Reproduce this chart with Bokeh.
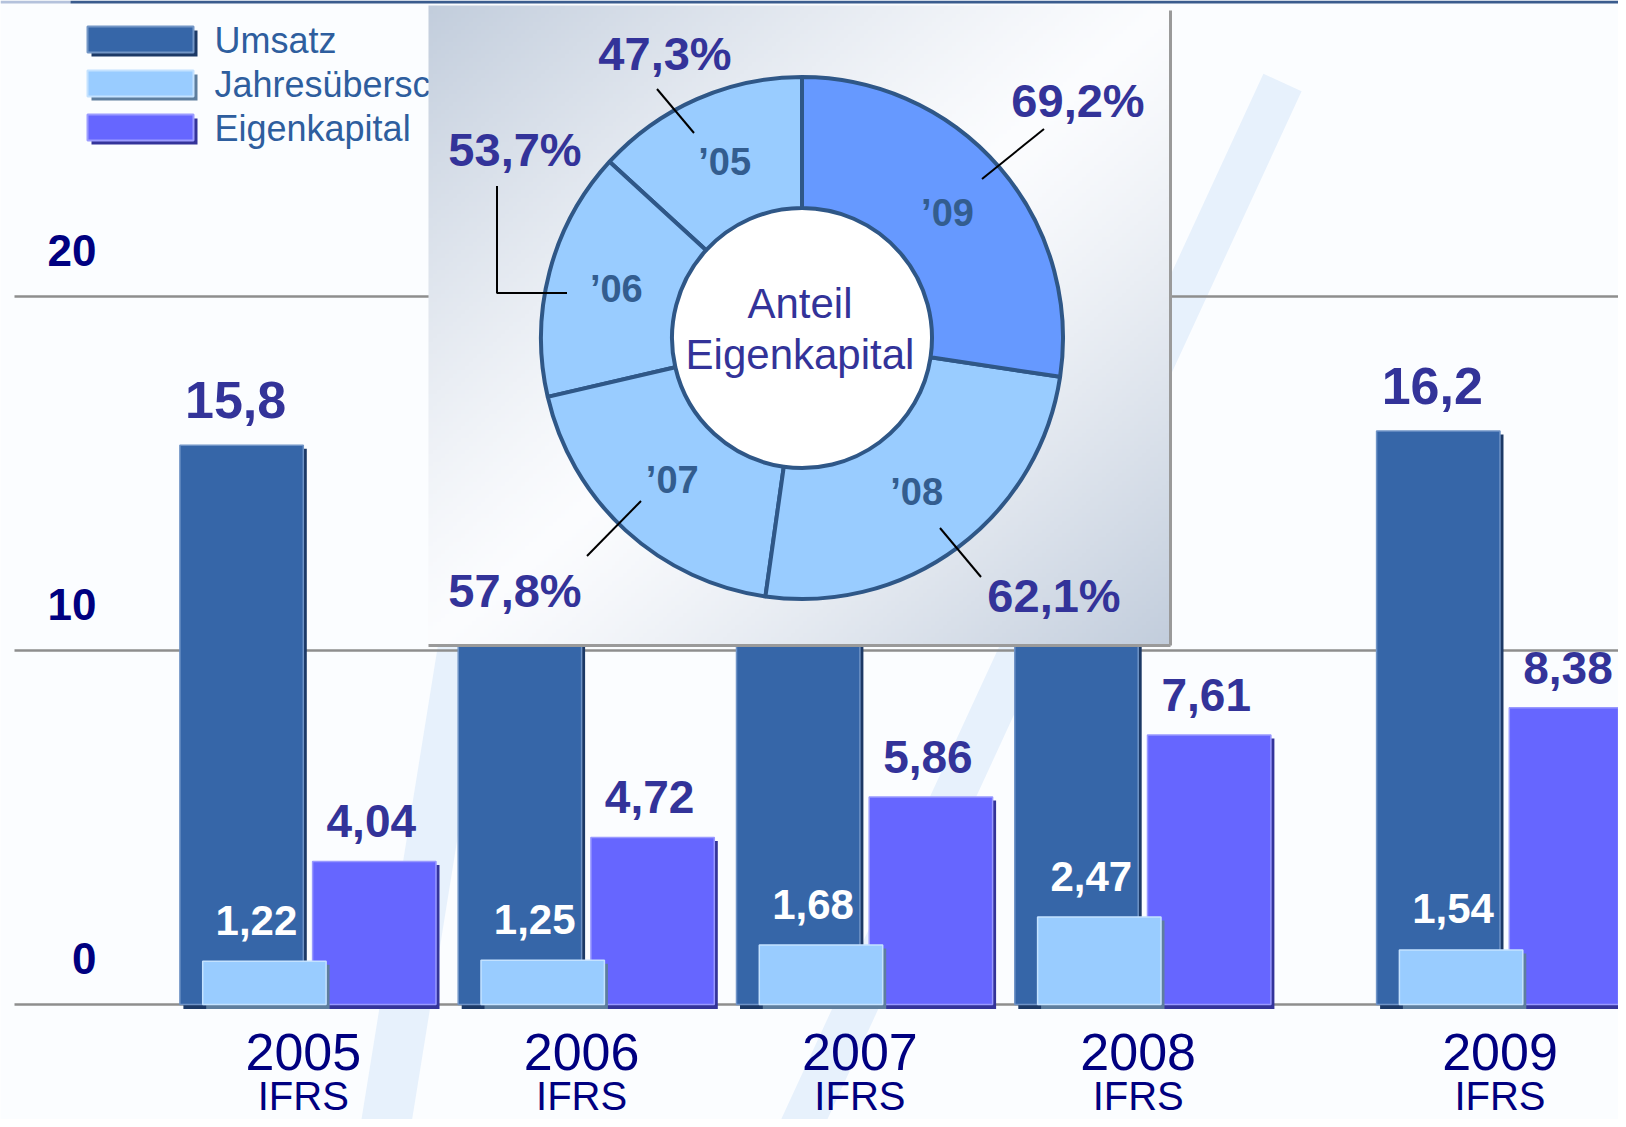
import numpy as np
from bokeh.plotting import figure
from bokeh.models import Range1d
from bokeh.core.properties import value
from bokeh.embed import file_html
from bokeh.resources import INLINE

# ---------------- data ----------------
years = ["2005", "2006", "2007", "2008", "2009"]
year_note = ["IFRS", "IFRS", "IFRS", "IFRS", "IFRS"]
umsatz = [15.8, 13.9, 14.6, 15.9, 16.2]          # 2006-2008 hidden behind the inset (estimated)
umsatz_label_visible = [True, False, False, False, True]
jahresueberschuss = [1.22, 1.25, 1.68, 2.47, 1.54]
eigenkapital = [4.04, 4.72, 5.86, 7.61, 8.38]
ek_quote = [47.3, 53.7, 57.8, 62.1, 69.2]
donut_years = ["\u201905", "\u201906", "\u201907", "\u201908", "\u201909"]
y_ticks = [0, 10, 20]
legend_labels = ["Umsatz", "Jahresüberschuss", "Eigenkapital"]
center_text = ["Anteil", "Eigenkapital"]


def de(v, nd):
    return f"{v:.{nd}f}".replace(".", ",")


# ---------------- layout (reference pixel space) ----------------
W, H = 1618, 1119
M = 0                      # reference pixel of canvas origin
Y0_REF = 1004.0            # zero line
PXU = 35.4                 # pixels per value unit
X0_REF = 179.4             # left edge of first group
SLOT_PX = 278.3            # distance between groups
LAST_GAP = 0.3             # extra spacing before the last group (in slots)
BAR_PX = 123.4
OFF_LIGHT_PX = 22.8
OFF_EK_PX = 132.7
SH = 3.5                   # shadow offset px

CX, CY = 801.5, 337.5      # donut centre (reference px)
R_OUT, R_IN = 261.0, 130.0

FONT = value("Liberation Sans")
NAVY = "#000080"
INDIGO = "#333399"

n = len(years)
idx = np.arange(n)
slot = idx + LAST_GAP * (idx == n - 1)
bw = BAR_PX / SLOT_PX
x_ums = slot + bw / 2
x_light = slot + OFF_LIGHT_PX / SLOT_PX + bw / 2
x_ek = slot + OFF_EK_PX / SLOT_PX + bw / 2
dxs = SH / SLOT_PX
dys = SH / PXU

p = figure(width=W, height=H, output_backend="svg", toolbar_location=None,
           x_range=Range1d((M - X0_REF) / SLOT_PX, (M + W - X0_REF) / SLOT_PX),
           y_range=Range1d((Y0_REF - (M + H)) / PXU, (Y0_REF - M) / PXU),
           x_axis_location=None, y_axis_location=None, min_border=0,
           background_fill_color="#fbfdff", border_fill_color="#fbfdff",
           outline_line_color=None)
p.grid.visible = False
p.extra_x_ranges = {"px": Range1d(M, M + W), "dn": Range1d(M - CX, M + W - CX)}
p.extra_y_ranges = {"px": Range1d(-(M + H), -M), "dn": Range1d(CY - (M + H), CY - M)}
PX = dict(x_range_name="px", y_range_name="px")
DN = dict(x_range_name="dn", y_range_name="dn")


# ---------------- watermark (faint check stroke) ----------------
def band(x0, y0, x1, y1, w):
    d = np.array([x1 - x0, y1 - y0], float)
    nrm = np.array([-d[1], d[0]]) / np.hypot(*d) * w / 2
    xs = [x0 + nrm[0], x1 + nrm[0], x1 - nrm[0], x0 - nrm[0]]
    ys = [y0 + nrm[1], y1 + nrm[1], y1 - nrm[1], y0 - nrm[1]]
    return xs, [-y for y in ys]


wa = band(385, 1127, 470, 600, 50)
wb = band(800, 1127, 1282, 82, 42)
p.patches(xs=[wa[0], wb[0]], ys=[wa[1], wb[1]], fill_color="#e7f1fc",
          line_color=None, **PX)

# top rule
p.quad(left=[0, 70], right=[70, M + W], top=[0, 0], bottom=[-3, -3],
       fill_color=["#b4c2dc", "#3a5c8e"], line_color=None, **PX)

# ---------------- gridlines & value-axis labels ----------------
p.segment(x0=[14] * len(y_ticks), x1=[M + W] * len(y_ticks), y0=y_ticks, y1=y_ticks,
          line_color="#8e8e8e", line_width=2.5, x_range_name="px")
p.text(x=[96] * len(y_ticks), y=y_ticks, text=[str(t) for t in y_ticks],
       text_font=FONT, text_font_size="44px", text_font_style="bold",
       text_color=NAVY, text_align="right", text_baseline="middle",
       y_offset=-46, x_range_name="px")

# ---------------- legend (custom) ----------------
LEG_X0, LEG_W, LEG_Y0, LEG_H, LEG_DY = 87, 106, 26, 26, 44
leg_fill = ["#3666a8", "#99ccff", "#6666ff"]
leg_shadow = ["#1c3966", "#5e7e9e", "#34349a"]
leg_hi = ["#7396c6", "#c4e2ff", "#9c9cff"]
tops = [LEG_Y0 + i * LEG_DY for i in range(3)]
p.quad(left=[LEG_X0 + 4] * 3, right=[LEG_X0 + LEG_W + 4] * 3,
       top=[-(t + 4) for t in tops], bottom=[-(t + LEG_H + 4) for t in tops],
       fill_color=leg_shadow, line_color=None, **PX)
p.quad(left=[LEG_X0] * 3, right=[LEG_X0 + LEG_W] * 3,
       top=[-t for t in tops], bottom=[-(t + LEG_H) for t in tops],
       fill_color=leg_fill, line_color=leg_hi, line_width=2, **PX)
p.text(x=[214] * 3, y=[-(t + LEG_H / 2 + 1) for t in tops], text=legend_labels,
       text_font=FONT, text_font_size="36px", text_color="#2e5e9e",
       text_align="left", text_baseline="middle", **PX)


# ---------------- bars ----------------
def bars(xc, vals, fill, shadow, hi):
    vals = np.array(vals, float)
    p.vbar(x=xc + dxs, top=vals - dys, bottom=-4.5 / PXU, width=bw,
           fill_color=shadow, line_color=None)
    p.vbar(x=xc, top=vals, bottom=0, width=bw, fill_color=fill,
           line_color=hi, line_width=1.5)


bars(x_ums, umsatz, "#3666a8", "#1c3966", "#6f93c6")
bars(x_ek, eigenkapital, "#6666ff", "#34349a", "#9999ff")
bars(x_light, jahresueberschuss, "#99ccff", "#5e7e9e", "#c4e2ff")

vis = [i for i in range(n) if umsatz_label_visible[i]]
p.text(x=x_ums[vis], y=[umsatz[i] for i in vis], text=[de(umsatz[i], 1) for i in vis],
       text_font=FONT, text_font_size="52px", text_font_style="bold",
       text_color=INDIGO, text_align="center", text_baseline="middle",
       x_offset=-6, y_offset=-45)
p.text(x=x_ek, y=eigenkapital, text=[de(v, 2) for v in eigenkapital],
       text_font=FONT, text_font_size="46px", text_font_style="bold",
       text_color=INDIGO, text_align="center", text_baseline="middle",
       x_offset=-3, y_offset=-40)
p.text(x=x_light, y=jahresueberschuss, text=[de(v, 2) for v in jahresueberschuss],
       text_font=FONT, text_font_size="42px", text_font_style="bold",
       text_color="white", text_align="center", text_baseline="middle",
       x_offset=-8, y_offset=-41)

# category labels
p.text(x=slot + bw, y=[0] * n, text=years, text_font=FONT, text_font_size="52px",
       text_color=NAVY, text_align="center", text_baseline="middle", y_offset=47)
p.text(x=slot + bw, y=[0] * n, text=year_note, text_font=FONT, text_font_size="40px",
       text_color=NAVY, text_align="center", text_baseline="middle", y_offset=91)

# ---------------- inset panel ----------------
PL, PT, PR, PB = 428, 5, 1170, 645
ny, nx = 160, 186
u = np.linspace(0, 1, nx)[None, :]
vt = np.linspace(1, 0, ny)[:, None]          # row 0 = bottom
t = (u + vt) / 2
m = np.clip(np.abs(2 * t - 1), 0, 1) ** 1.25
edge = np.array([194, 205, 220], float)
white = np.array([251, 252, 254], float)
rgb = white * (1 - m[..., None]) + edge * m[..., None]
img = np.empty((ny, nx, 4), dtype=np.uint8)
img[..., :3] = np.round(rgb).astype(np.uint8)
img[..., 3] = 255
arr = img.view(np.uint32).reshape(ny, nx)
p.image_rgba(image=[arr], x=PL, y=-PB, dw=PR - PL, dh=PB - PT, **PX)
p.segment(x0=[PR, PL], y0=[-(PT + 5), -PB], x1=[PR, PR], y1=[-PB, -PB],
          line_color="#9a9a9a", line_width=3, **PX)

# ---------------- donut ----------------
ek = np.array(eigenkapital, float)
frac = ek / ek.sum()
ends = np.pi / 2 + np.cumsum(frac) * 2 * np.pi
starts = ends - frac * 2 * np.pi
mids = (starts + ends) / 2
wedge_colors = ["#99ccff"] * (n - 1) + ["#6699ff"]

p.circle(x=[0], y=[0], radius=R_IN, fill_color="white", line_color=None, **DN)
p.annular_wedge(x=[0] * n, y=[0] * n, inner_radius=R_IN, outer_radius=R_OUT,
                start_angle=starts, end_angle=ends, fill_color=wedge_colors,
                line_color="#2f5787", line_width=4, **DN)

R_YEAR = 192
p.text(x=R_YEAR * np.cos(mids), y=R_YEAR * np.sin(mids), text=donut_years,
       text_font=FONT, text_font_size="38px", text_font_style="bold",
       text_color="#335d8f", text_align="center", text_baseline="middle", **DN)

p.text(x=[-2, -2], y=[35, -16], text=center_text, text_font=FONT,
       text_font_size="42px", text_color=INDIGO, text_align="center",
       text_baseline="middle", **DN)

# leader lines (annotation layout, relative to donut centre, y up)
lead_xs = [[-108, -145], [-235, -305, -305], [-161, -215], [138, 179], [180, 242]]
lead_ys = [[205, 249], [45, 45, 152], [-163, -218], [-190, -239], [159, 209]]
p.multi_line(xs=lead_xs, ys=lead_ys, line_color="black", line_width=2, **DN)

lab_x = [-137, -287, -287, 252, 276]
lab_y = [285, 189, -252, -257, 238]
p.text(x=lab_x, y=lab_y, text=[de(v, 1) + "%" for v in ek_quote],
       text_font=FONT, text_font_size="47px", text_font_style="bold",
       text_color=INDIGO, text_align="center", text_baseline="middle", **DN)

open("out.html", "w").write(file_html(p, INLINE))
